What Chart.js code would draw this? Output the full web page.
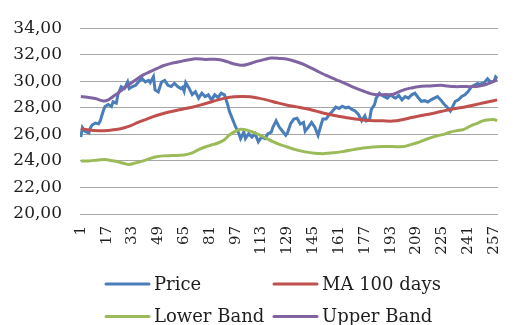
<!DOCTYPE html>
<html>
<head>
<meta charset="utf-8">
<script src="https://cdn.jsdelivr.net/npm/chart.js@4"></script>
<style>
  html, body { margin: 0; padding: 0; background: #fff; }
  #chart { display: block; }
</style>
</head>
<body>
<canvas id="chart" width="524" height="325"></canvas>
<script>
// 日数（x軸の目盛り）
const tickDays = [1, 17, 33, 49, 65, 81, 97, 113, 129, 145, 161, 177, 193, 209, 225, 241, 257];
const lastDay = 259;

// 各系列 [日, 値]
const price = [
    [1, 25.8], [2, 26.5], [3, 26.3], [4, 26.2], [6, 26.1], [7, 26.5], [8, 26.7], [10, 26.85],
    [12, 26.8], [13, 27.0], [14, 27.4], [15, 27.8], [16, 28.1], [18, 28.25], [20, 28.1], [21, 28.45],
    [23, 28.35], [24, 29.0], [26, 29.6], [28, 29.45], [30, 29.95], [31, 29.45], [33, 29.6], [35, 29.7],
    [37, 30.0], [39, 30.2], [41, 29.95], [43, 30.07], [44, 29.9], [46, 30.35], [47, 29.35], [49, 29.2],
    [51, 29.95], [53, 30.07], [55, 29.7], [57, 29.6], [59, 29.85], [61, 29.6], [63, 29.45], [64, 29.55],
    [65, 29.25], [66, 29.9], [68, 29.5], [70, 29.0], [72, 29.22], [74, 28.73], [76, 29.1], [78, 28.85],
    [80, 28.98], [82, 28.6], [84, 28.98], [86, 28.78], [88, 29.1], [90, 28.98], [92, 28.24], [93, 27.76],
    [95, 27.15], [97, 26.54], [99, 26.05], [100, 25.68], [102, 26.17], [103, 25.68], [105, 26.05], [107, 25.8],
    [109, 26.05], [111, 25.44], [113, 25.8], [115, 25.68], [117, 26.05], [119, 26.17], [120, 26.54], [122, 27.02],
    [124, 26.54], [126, 26.24], [128, 25.93], [129, 26.1], [131, 26.8], [133, 27.15], [135, 27.22], [137, 26.78],
    [139, 26.9], [140, 26.24], [142, 26.54], [144, 26.9], [146, 26.54], [148, 25.93], [150, 26.78], [151, 27.15],
    [153, 27.15], [155, 27.51], [157, 27.76], [159, 28.05], [161, 27.95], [163, 28.12], [165, 28.0], [167, 28.05],
    [169, 27.88], [171, 27.76], [173, 27.51], [175, 27.02], [177, 27.39], [178, 27.02], [180, 27.15], [181, 27.88],
    [183, 28.24], [184, 28.73], [186, 29.1], [187, 28.98], [189, 28.85], [191, 28.73], [193, 28.98], [195, 28.78],
    [196, 28.73], [198, 28.93], [200, 28.6], [202, 28.85], [204, 28.73], [206, 28.98], [208, 29.1], [210, 28.78],
    [212, 28.49], [214, 28.54], [216, 28.44], [218, 28.6], [220, 28.73], [222, 28.85], [224, 28.6], [226, 28.29],
    [228, 28.05], [230, 27.76], [231, 28.0], [233, 28.49], [235, 28.6], [237, 28.85], [239, 28.98], [241, 29.22],
    [243, 29.59], [245, 29.71], [247, 29.83], [248, 29.76], [251, 29.9], [253, 30.2], [255, 29.95], [257, 30.0],
    [258, 30.32], [259, 30.2]
];

const ma100 = [
    [1, 26.45], [5, 26.35], [12, 26.27], [18, 26.3], [24, 26.38], [28, 26.5], [32, 26.66], [36, 26.88],
    [40, 27.07], [45, 27.3], [50, 27.5], [55, 27.67], [60, 27.8], [64, 27.9], [70, 28.05], [76, 28.24],
    [81, 28.42], [86, 28.6], [91, 28.75], [96, 28.83], [101, 28.85], [106, 28.83], [111, 28.73], [116, 28.6],
    [123, 28.37], [129, 28.2], [135, 28.07], [141, 27.93], [147, 27.75], [153, 27.56], [159, 27.4], [165, 27.27],
    [171, 27.15], [177, 27.07], [183, 27.03], [188, 27.02], [194, 27.0], [200, 27.1], [206, 27.27], [212, 27.42],
    [218, 27.56], [224, 27.72], [230, 27.88], [236, 28.0], [241, 28.12], [247, 28.28], [253, 28.44], [259, 28.6]
];

const lowerBand = [
    [1, 24.0], [6, 24.0], [12, 24.07], [16, 24.1], [20, 24.02], [24, 23.93], [28, 23.8], [31, 23.73],
    [34, 23.82], [38, 23.95], [42, 24.1], [47, 24.3], [52, 24.38], [58, 24.4], [65, 24.45], [70, 24.6],
    [74, 24.85], [78, 25.05], [82, 25.2], [86, 25.35], [90, 25.6], [93, 25.95], [97, 26.25], [100, 26.39],
    [104, 26.32], [108, 26.15], [112, 25.95], [116, 25.7], [120, 25.45], [124, 25.25], [129, 25.05], [134, 24.85],
    [140, 24.68], [146, 24.58], [152, 24.55], [158, 24.62], [164, 24.72], [170, 24.85], [176, 24.97], [182, 25.05],
    [188, 25.08], [194, 25.08], [201, 25.08], [206, 25.25], [210, 25.39], [214, 25.58], [218, 25.76], [222, 25.9],
    [226, 26.0], [230, 26.18], [234, 26.28], [238, 26.36], [243, 26.66], [247, 26.85], [250, 27.02], [254, 27.1],
    [257, 27.12], [259, 27.03]
];

const upperBand = [
    [1, 28.85], [5, 28.8], [10, 28.7], [15, 28.52], [18, 28.6], [21, 28.85], [25, 29.2], [28, 29.5],
    [32, 29.85], [36, 30.2], [40, 30.5], [44, 30.73], [48, 30.95], [52, 31.17], [57, 31.35], [63, 31.5],
    [68, 31.62], [72, 31.7], [78, 31.65], [84, 31.66], [88, 31.6], [92, 31.46], [96, 31.3], [101, 31.2],
    [105, 31.3], [110, 31.5], [115, 31.65], [119, 31.75], [124, 31.72], [129, 31.66], [135, 31.45], [141, 31.17],
    [147, 30.8], [153, 30.44], [159, 30.13], [165, 29.83], [171, 29.5], [177, 29.22], [181, 29.05], [185, 28.98],
    [190, 29.0], [194, 29.0], [198, 29.2], [202, 29.39], [206, 29.5], [210, 29.59], [217, 29.65], [224, 29.7],
    [228, 29.65], [232, 29.6], [238, 29.6], [244, 29.6], [248, 29.65], [252, 29.76], [256, 29.95], [259, 30.12]
];

const toPoints = (rows) => rows.map(([d, v]) => ({ x: d, y: v }));

const FONT = "'DejaVu Serif', serif";
const TEXT_COLOR = '#1e1e1e';

// 凡例（2列×2行）
const legendItems = [
    { label: 'Price', color: '#4a7ebb' },
    { label: 'MA 100 days', color: '#c0504d' },
    { label: 'Lower Band', color: '#9bbb59' },
    { label: 'Upper Band', color: '#8064a2' }
];

const gridLegend = {
    id: 'gridLegend',
    afterDraw(chart) {
        const ctx = chart.ctx;
        const colX = [106, 274];
        const rowY = [284, 316.5];
        ctx.save();
        ctx.font = '18px ' + FONT;
        ctx.textBaseline = 'middle';
        ctx.textAlign = 'left';
        legendItems.forEach((item, i) => {
            const x = colX[i % 2];
            const y = rowY[Math.floor(i / 2)];
            ctx.strokeStyle = item.color;
            ctx.lineWidth = 3;
            ctx.lineCap = 'round';
            ctx.beginPath();
            ctx.moveTo(x, y);
            ctx.lineTo(x + 43, y);
            ctx.stroke();
            ctx.fillStyle = TEXT_COLOR;
            ctx.fillText(item.label, x + 48, y + 1);
        });
        ctx.restore();
    }
};

const line = (label, rows, color, order, tension) => ({
    label: label,
    data: toPoints(rows),
    borderColor: color,
    backgroundColor: color,
    borderWidth: 3,
    pointRadius: 0,
    tension: tension,
    order: order
});

const ctx = document.getElementById('chart').getContext('2d');
new Chart(ctx, {
    type: 'line',
    data: {
        datasets: [
            line('Price', price, '#4a7ebb', 4, 0),
            line('MA 100 days', ma100, '#c0504d', 3, 0.3),
            line('Lower Band', lowerBand, '#9bbb59', 2, 0.3),
            line('Upper Band', upperBand, '#8064a2', 1, 0.3)
        ]
    },
    options: {
        responsive: false,
        animation: false,
        devicePixelRatio: 1,
        layout: { padding: { top: 20, right: 3, left: 0, bottom: 0 } },
        scales: {
            x: {
                type: 'linear',
                min: 0.5,
                max: lastDay + 0.5,
                afterBuildTicks: (scale) => {
                    scale.ticks = tickDays.map(d => ({ value: d }));
                },
                afterFit: (scale) => { scale.height = 111; },
                grid: { display: false, drawTicks: false },
                border: { display: false },
                ticks: {
                    autoSkip: false,
                    minRotation: 90,
                    maxRotation: 90,
                    padding: 12,
                    color: TEXT_COLOR,
                    font: { family: FONT, size: 15 },
                    callback: (v) => String(v)
                }
            },
            y: {
                min: 20,
                max: 34,
                afterFit: (scale) => { scale.width = 80; },
                grid: { color: '#a6a6a6', lineWidth: 1, drawTicks: false },
                border: { display: false },
                ticks: {
                    stepSize: 2,
                    padding: 18,
                    color: TEXT_COLOR,
                    font: { family: FONT, size: 17 },
                    callback: (v) => v.toFixed(2).replace('.', ',')
                }
            }
        },
        plugins: {
            legend: { display: false },
            tooltip: { enabled: false }
        }
    },
    plugins: [gridLegend]
});
</script>
</body>
</html>
